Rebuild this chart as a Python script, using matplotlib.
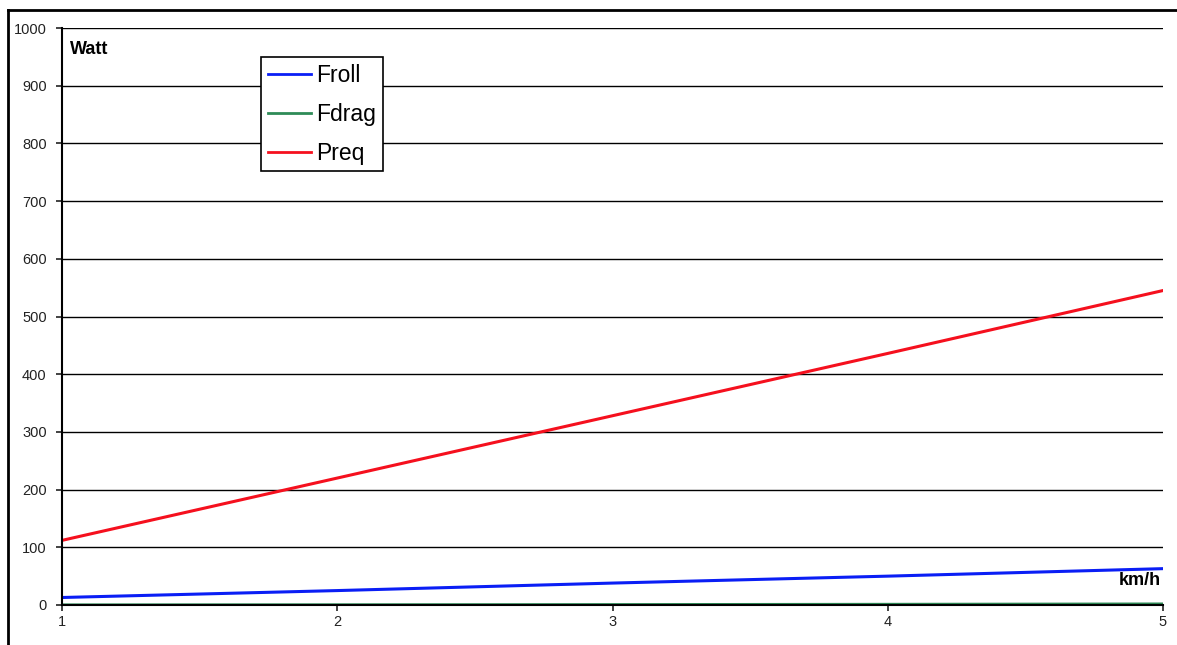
import matplotlib.pyplot as plt
from matplotlib.lines import Line2D

plt.rcParams['font.family'] = ['Liberation Sans', 'DejaVu Sans']

speed = [1, 2, 3, 4, 5]
froll = [13, 25, 38, 50, 63]
fdrag = [0.1, 0.3, 0.6, 1.1, 1.7]
preq = [112, 220, 328, 436, 545]

fig = plt.figure(figsize=(11.77, 6.45), dpi=100)
ax = fig.add_axes([62 / 1177, 1 - 605 / 645, (1163 - 62) / 1177, (605 - 28) / 645])

ax.plot(speed, froll, color="#0a1ef5", lw=2.2, label="Froll")
ax.plot(speed, fdrag, color="#2e8b57", lw=2.2, label="Fdrag")
ax.plot(speed, preq, color="#f5101e", lw=2.2, label="Preq")

ax.set_xlim(1, 5)
ax.set_ylim(0, 1000)
ax.set_xticks(speed)
ax.set_yticks(range(0, 1001, 100))
ax.yaxis.grid(True, color="black", lw=1)
ax.set_axisbelow(True)
for s in ["top", "right"]:
    ax.spines[s].set_visible(False)
for s in ["left", "bottom"]:
    ax.spines[s].set_linewidth(1.5)
ax.tick_params(labelsize=10.5, length=4, width=1.2, colors="#222222")
ax.tick_params(axis="y", pad=7)

ax.text(0.007, 0.962, "Watt", transform=ax.transAxes, fontsize=13,
        fontweight="bold", va="center", ha="left")
ax.text(0.998, 0.043, "km/h", transform=ax.transAxes, fontsize=13,
        fontweight="bold", va="center", ha="right")

leg = ax.legend(loc="upper left", bbox_to_anchor=(0.1807, 0.9497), fontsize=16.5,
                handlelength=1.9, handletextpad=0.2, labelspacing=0.69,
                frameon=True, fancybox=False, edgecolor="black", framealpha=1,
                borderpad=0.3, borderaxespad=0)
leg.get_frame().set_linewidth(1.2)
for h in leg.get_lines():
    h.set_linewidth(2)

# outer frame lines (top and left)
fig.add_artist(Line2D([8 / 1177, 1], [1 - 10 / 645, 1 - 10 / 645], color="black", lw=2))
fig.add_artist(Line2D([8 / 1177, 8 / 1177], [0, 1 - 10 / 645], color="black", lw=2))

fig.savefig("out.png", dpi=100)
